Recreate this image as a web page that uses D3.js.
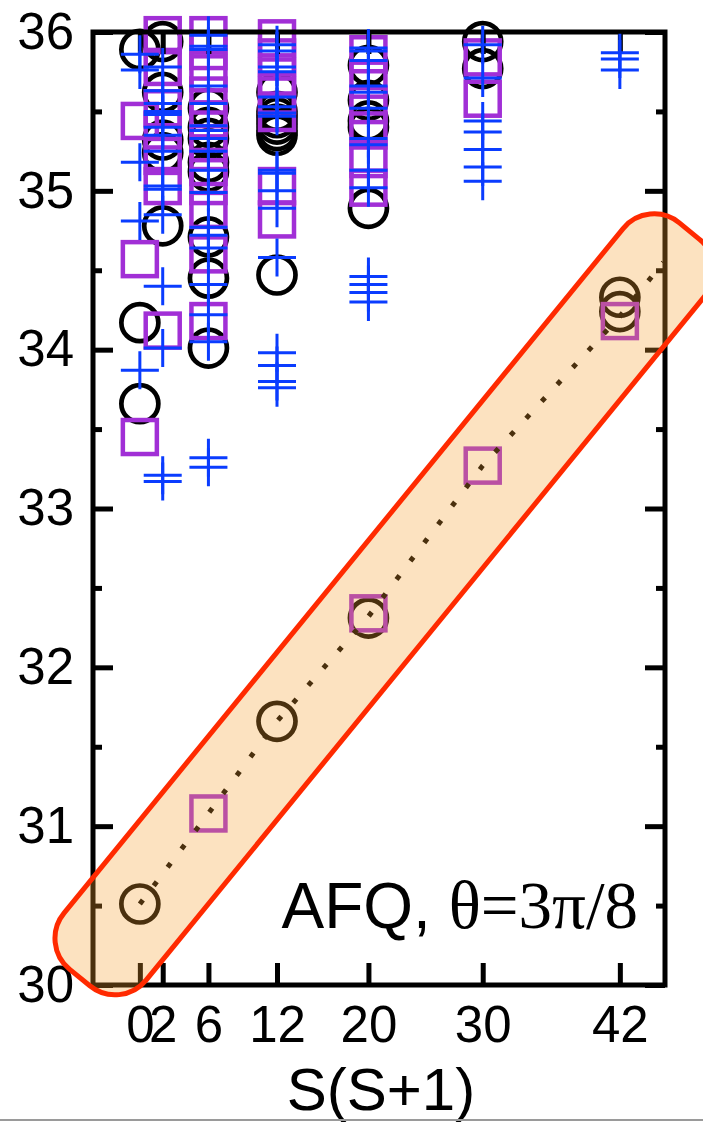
<!DOCTYPE html>
<html>
<head>
<meta charset="utf-8">
<script src="https://cdn.jsdelivr.net/npm/d3@7"></script>
<style>
  html, body { margin: 0; padding: 0; background: #fff; }
  svg { display: block; }
</style>
</head>
<body>
<svg id="chart" width="703" height="1122"></svg>
<script>
// S(S+1) tick values and energy ticks
const xTicks = [0, 2, 6, 12, 20, 30, 42];
const yTicks = [30, 31, 32, 33, 34, 35, 36];
const yMinor = [30.5, 31.5, 32.5, 33.5, 34.5, 35.5];

// black circles: [S(S+1), E]
const circles = [
  [0, 35.89], [0, 34.17], [0, 33.66],
  [2, 35.94], [2, 35.62], [2, 35.32], [2, 35.24], [2, 34.78],
  [6, 35.52], [6, 35.40], [6, 35.33], [6, 35.18], [6, 35.12], [6, 34.71], [6, 34.45], [6, 34.01],
  [12, 35.62], [12, 35.50], [12, 35.46], [12, 35.42], [12, 35.38], [12, 35.35], [12, 34.47],
  [20, 35.79], [20, 35.57], [20, 35.44], [20, 35.40], [20, 34.89],
  [30, 35.94], [30, 35.77]
];

// purple squares
const squares = [
  [0, 35.44], [0, 34.57], [0, 33.45],
  [2, 35.98], [2, 35.78], [2, 35.52], [2, 35.38], [2, 35.22], [2, 35.03], [2, 34.12],
  [6, 35.98], [6, 35.88], [6, 35.74], [6, 35.60], [6, 35.45], [6, 35.30], [6, 35.15], [6, 35.03], [6, 34.88], [6, 34.60], [6, 34.18],
  [12, 35.96], [12, 35.84], [12, 35.72], [12, 35.60], [12, 35.49], [12, 35.03], [12, 34.82],
  [20, 35.86], [20, 35.70], [20, 35.54], [20, 35.38], [20, 35.20], [20, 35.02],
  [30, 35.84], [30, 35.58]
];

// blue pluses
const pluses = [
  [0, 35.86], [0, 35.76], [0, 35.18], [0, 34.81], [0, 33.87],
  [2, 35.78], [2, 35.63], [2, 35.55], [2, 35.50], [2, 35.48], [2, 35.40], [2, 35.35], [2, 35.25],
  [2, 35.03], [2, 35.01], [2, 34.85], [2, 34.40], [2, 34.01], [2, 33.21], [2, 33.17],
  [6, 35.98], [6, 35.91], [6, 35.89], [6, 35.66], [6, 35.55], [6, 35.41], [6, 35.38], [6, 35.33],
  [6, 35.25], [6, 35.13], [6, 34.99], [6, 34.77], [6, 34.72], [6, 34.64], [6, 34.41], [6, 34.22],
  [6, 34.05], [6, 33.32], [6, 33.26],
  [12, 35.92], [12, 35.88], [12, 35.78], [12, 35.75], [12, 35.59], [12, 35.53], [12, 35.49], [12, 35.47],
  [12, 35.13], [12, 35.11], [12, 35.00], [12, 34.89], [12, 34.58], [12, 33.98], [12, 33.90], [12, 33.80], [12, 33.76],
  [20, 35.90], [20, 35.88], [20, 35.82], [20, 35.66], [20, 35.62], [20, 35.52], [20, 35.33], [20, 35.29],
  [20, 35.13], [20, 35.02], [20, 34.46], [20, 34.41], [20, 34.36], [20, 34.30],
  [30, 35.92], [30, 35.71], [30, 35.44], [30, 35.37], [30, 35.26], [30, 35.15], [30, 35.06],
  [42, 35.87], [42, 35.83], [42, 35.76]
];

// lowest states inside the highlight band
const lowCircles = [[0, 30.51], [12, 31.66], [20, 32.31], [42, 34.33], [42, 34.24]];
const lowSquares = [[6, 31.08], [20, 32.34], [30, 33.27], [42, 34.18]];
const lowLine = [[0, 30.51], [6, 31.08], [12, 31.66], [20, 32.32], [30, 33.27], [42, 34.21], [45.8, 34.55]];
const bandFrom = [0, 30.51];
const bandTo = [42, 34.21];

const sans = "'Liberation Sans', Arial, Helvetica, sans-serif";
const serif = "'Liberation Serif', 'Times New Roman', serif";

const svg = d3.select("#chart");

const x = d3.scaleLinear().domain([-4.1, 45.95]).range([93, 665]);
const y = d3.scaleLinear().domain([30, 36]).range([985, 32]);

// markers
svg.append("g")
  .selectAll("circle")
  .data(circles.concat(lowCircles))
  .enter().append("circle")
  .attr("cx", d => x(d[0]))
  .attr("cy", d => y(d[1]))
  .attr("r", 18.5)
  .attr("fill", "none")
  .attr("stroke", "#000")
  .attr("stroke-width", 4.7);

svg.append("g")
  .selectAll("rect")
  .data(squares.concat(lowSquares))
  .enter().append("rect")
  .attr("x", d => x(d[0]) - 17)
  .attr("y", d => y(d[1]) - 17)
  .attr("width", 34)
  .attr("height", 34)
  .attr("fill", "none")
  .attr("stroke", "#a12fd6")
  .attr("stroke-width", 4.5);

// frame + ticks
const styleAxis = (g) => {
  g.select(".domain").remove();
  g.selectAll(".tick line").attr("stroke", "#000").attr("stroke-width", 5);
  g.selectAll(".tick text")
    .attr("fill", "#000")
    .attr("font-family", sans)
    .attr("font-size", 51);
};

svg.append("g")
  .attr("transform", "translate(0,985)")
  .call(d3.axisBottom(x).tickValues(xTicks).tickSize(-22).tickSizeOuter(0).tickPadding(21))
  .call(styleAxis);

svg.append("g")
  .attr("transform", "translate(0,32)")
  .call(d3.axisTop(x).tickValues(xTicks).tickSize(-22).tickSizeOuter(0).tickFormat(""))
  .call(styleAxis);

svg.append("g")
  .attr("transform", "translate(93,0)")
  .call(d3.axisLeft(y).tickValues(yTicks).tickSize(-20).tickSizeOuter(0).tickPadding(19).tickFormat(d3.format("d")))
  .call(styleAxis);

svg.append("g")
  .attr("transform", "translate(665,0)")
  .call(d3.axisRight(y).tickValues(yTicks).tickSize(-20).tickSizeOuter(0).tickFormat(""))
  .call(styleAxis);

svg.append("g")
  .attr("transform", "translate(93,0)")
  .call(d3.axisLeft(y).tickValues(yMinor).tickSize(-9).tickSizeOuter(0).tickFormat(""))
  .call(styleAxis);

svg.append("g")
  .attr("transform", "translate(665,0)")
  .call(d3.axisRight(y).tickValues(yMinor).tickSize(-9).tickSizeOuter(0).tickFormat(""))
  .call(styleAxis);

svg.append("rect")
  .attr("x", x.range()[0])
  .attr("y", y.range()[1])
  .attr("width", x.range()[1] - x.range()[0])
  .attr("height", y.range()[0] - y.range()[1])
  .attr("fill", "none")
  .attr("stroke", "#000")
  .attr("stroke-width", 5);

svg.append("g")
  .selectAll("path")
  .data(pluses)
  .enter().append("path")
  .attr("transform", d => `translate(${x(d[0])},${y(d[1])})`)
  .attr("d", "M-19,0H19M0,-19V19")
  .attr("fill", "none")
  .attr("stroke", "#0a3cff")
  .attr("stroke-width", 3);

// dotted guide through the lowest states
svg.append("path")
  .datum(lowLine)
  .attr("d", d3.line().x(d => x(d[0])).y(d => y(d[1])))
  .attr("fill", "none")
  .attr("stroke", "#000")
  .attr("stroke-width", 5)
  .attr("stroke-dasharray", "5 18");

// highlight band (rotated rounded rect)
const p0 = [x(bandFrom[0]), y(bandFrom[1])];
const p1 = [x(bandTo[0]), y(bandTo[1])];
const len = Math.hypot(p1[0] - p0[0], p1[1] - p0[1]);
const ang = Math.atan2(p1[1] - p0[1], p1[0] - p0[0]) * 180 / Math.PI;

svg.append("rect")
  .attr("transform", `translate(${p0[0]},${p0[1]}) rotate(${ang})`)
  .attr("x", -95)
  .attr("y", -53)
  .attr("width", len + 95 + 110)
  .attr("height", 106)
  .attr("rx", 40)
  .attr("fill", "#f5a02d")
  .attr("fill-opacity", 0.3)
  .attr("stroke", "#ff2a00")
  .attr("stroke-width", 5);

// labels
const note = svg.append("text")
  .attr("x", 638)
  .attr("y", 928)
  .attr("text-anchor", "end")
  .attr("fill", "#000");
note.append("tspan").attr("font-family", sans).attr("font-size", 64).text("AFQ,\u00a0");
note.append("tspan").attr("font-family", serif).attr("font-size", 67).text("θ=3π/8");

svg.append("text")
  .attr("x", 381)
  .attr("y", 1110)
  .attr("text-anchor", "middle")
  .attr("font-family", sans)
  .attr("font-size", 60)
  .attr("fill", "#000")
  .text("S(S+1)");

// page edge line at the bottom
svg.append("line")
  .attr("x1", 0).attr("x2", 703)
  .attr("y1", 1120).attr("y2", 1120)
  .attr("stroke", "#9a9a9a")
  .attr("stroke-width", 2);
</script>
</body>
</html>
